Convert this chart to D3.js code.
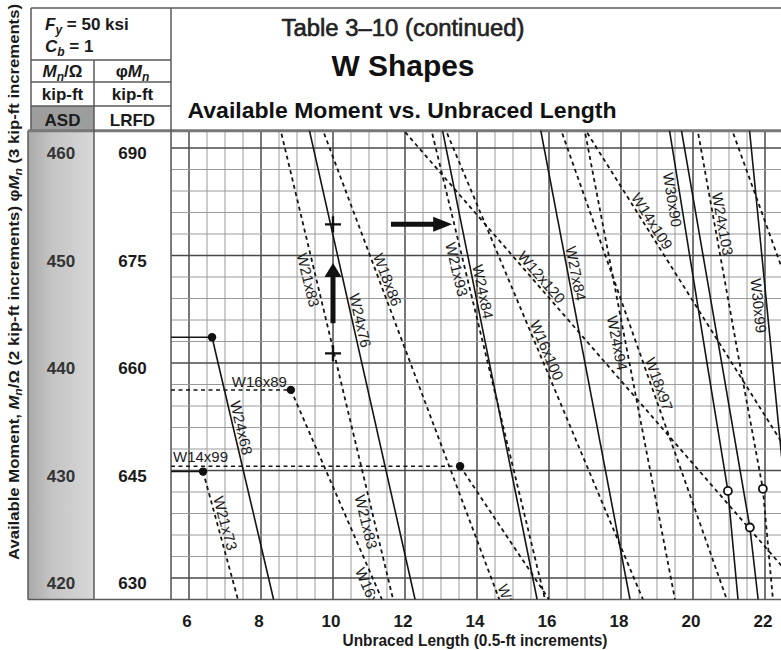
<!DOCTYPE html>
<html>
<head>
<meta charset="utf-8">
<script src="https://cdn.jsdelivr.net/npm/d3@7"></script>
<style>
body{margin:0;background:#fff}
svg{display:block}
text{font-family:"Liberation Sans Narrow","Liberation Sans",Arial,sans-serif}
</style>
</head>
<body>
<div id="chart"></div>
<script>
// ---- data (ASD moment, kip-ft vs unbraced length, ft) ----
const shapes = ["W24x68","W21x73","W16x89","W21x83","W24x76","W18x86","W12x120","W21x93","W24x84",
  "W16x100","W14x99","W27x84","W18x97","W24x94","W14x109","W30x90","unlabeled-solid","W24x103",
  "unlabeled-dashed","W30x99"];
const shapeLb = [
  [6.64, 8.35],[6.39, 7.36],[8.83, 11.36],[8.52, 11.67],[9.32, 12.28],[9.68, 14.62],[11.87, 22.6],
  [12.71, 15.89],[13.02, 15.67],[13.09, 18.61],[13.53, 16.0],[15.75, 18.25],[16.30, 20.94],
  [16.97, 19.5],[16.95, 22.6],[19.33, 20.42, 20.97, 21.25],[19.66, 20.83, 21.58, 21.81],
  [20.11, 21.33, 21.94, 22.22],[21.05, 22.6],[21.56, 22.28, 22.85]
];
const shapeM = [
  [442.4, 418],[429.9, 418],[437.5, 418],[462, 418],[462, 418],[462, 418],[462, 420.6],
  [462, 418],[462, 418],[462, 418],[430.4, 418],[462, 418],[462, 418],
  [462, 418],[462, 431.9],[462, 439.35, 428.1, 418],[462, 439.35, 424.7, 418],
  [462, 439.35, 428.3, 418],[462, 447.6],[462, 437.5, 418]
];
const dashedShapes = ["W21x73","W16x89","W21x83","W18x86","W12x120","W21x93","W16x100","W14x99",
  "W18x97","W24x94","W14x109","W24x103","unlabeled-dashed"];
// shapes whose Lp (filled dot) is inside the window
const lpShapes = ["W24x68","W21x73","W16x89","W14x99"];
// open circles (Lr)
const lrLb = [20.97, 21.58, 21.94];
const lrM = [428.1, 424.7, 428.3];

const xTicks = [6,8,10,12,14,16,18,20,22];
const asdTicks = [460,450,440,430,420];
const lrfdTicks = [690,675,660,645,630];

// worked example marks
const checkLb = [10, 10];
const checkM = [452.9, 440.9];
const upArrowLb = [10, 10];
const upArrowM = [443.7, 449.3];
const rightArrowLb = [11.61, 13.31];
const rightArrowM = [452.9, 452.9];

// where the shape names sit along their lines
const labelPlacement = [
  {shape:"W24x68", m:433.8, side:1},
  {shape:"W21x73", m:424.9, side:1},
  {shape:"W21x83", m:447.9, side:-1},
  {shape:"W21x83", m:425.4, side:-1},
  {shape:"W16x89", m:421.2, side:-1, anchor:"start"},
  {shape:"W24x76", m:443.8, side:1},
  {shape:"W18x86", m:447.5, side:1},
  {shape:"W18x86", m:419.1, side:1, anchor:"start"},
  {shape:"W21x93", m:448.9, side:-1},
  {shape:"W24x84", m:446.5, side:1},
  {shape:"W12x120", m:447.5, side:1},
  {shape:"W16x100", m:440.9, side:1},
  {shape:"W27x84", m:448.2, side:1},
  {shape:"W24x94", m:442.0, side:-1},
  {shape:"W18x97", m:437.8, side:1},
  {shape:"W14x109", m:452.8, side:1},
  {shape:"W30x90", m:455.3, side:-1},
  {shape:"W24x103", m:452.8, side:1},
  {shape:"W30x99", m:445.4, side:-1}
];

// ---- layout ----
const w = 781, h = 650;
const x = d3.scaleLinear().domain([6,22]).range([189,765]);
const y = d3.scaleLinear().domain([420,460]).range([578,148]);
const plotLeft = x(5.5), plotTop = y(461.6), plotBottom = y(418);
const asdL = 28, asdR = 94, hdrL = 31, hdrTop = 8;

const svg = d3.select("#chart").append("svg")
  .attr("width", w).attr("height", h)
  .attr("viewBox", `0 0 ${w} ${h}`);

const defs = svg.append("defs");
const grad = defs.append("linearGradient").attr("id","asdShade");
grad.append("stop").attr("offset","0%").attr("stop-color","#a9a9a9");
grad.append("stop").attr("offset","35%").attr("stop-color","#c4c4c4");
grad.append("stop").attr("offset","100%").attr("stop-color","#d8d8d8");
defs.append("clipPath").attr("id","plotClip")
  .append("rect").attr("x",plotLeft).attr("y",plotTop).attr("width",w-plotLeft).attr("height",plotBottom-plotTop);

// ASD column shading
svg.append("rect").attr("x",asdL).attr("y",plotTop).attr("width",asdR-asdL).attr("height",plotBottom-plotTop)
  .attr("fill","url(#asdShade)");
svg.append("rect").attr("x",hdrL).attr("y",106).attr("width",asdR-hdrL).attr("height",plotTop-106)
  .attr("fill","#9d9d9d");

// grid
const grid = svg.append("g").attr("clip-path","url(#plotClip)");
grid.selectAll("line.v").data(d3.range(5.5, 22.51, 0.5)).enter().append("line")
  .attr("x1", d=>x(d)).attr("x2", d=>x(d)).attr("y1", plotTop).attr("y2", plotBottom)
  .attr("stroke", d=> d%2===0 ? "#4a4a4a" : "#9a9a9a")
  .attr("stroke-width", d=> d%2===0 ? 1.5 : 1);
grid.selectAll("line.h").data(d3.range(418, 461, 2)).enter().append("line")
  .attr("x1", plotLeft).attr("x2", w).attr("y1", d=>y(d)).attr("y2", d=>y(d))
  .attr("stroke", d=> d%10===0 ? "#4a4a4a" : "#9a9a9a")
  .attr("stroke-width", d=> d%10===0 ? 1.5 : 1);

// frame / table lines
const frame = svg.append("g").attr("stroke","#5a5a5a").attr("stroke-width",1.5).attr("fill","none");
frame.append("line").attr("x1",hdrL).attr("x2",w).attr("y1",hdrTop).attr("y2",hdrTop);
frame.append("line").attr("x1",hdrL).attr("x2",hdrL).attr("y1",hdrTop).attr("y2",plotTop);
frame.append("line").attr("x1",asdL).attr("x2",asdL).attr("y1",plotTop).attr("y2",plotBottom);
frame.append("line").attr("x1",asdL).attr("x2",w).attr("y1",plotTop).attr("y2",plotTop).attr("stroke","#777").attr("stroke-width",3);
frame.append("line").attr("x1",asdL).attr("x2",w).attr("y1",plotBottom).attr("y2",plotBottom);
frame.append("line").attr("x1",plotLeft).attr("x2",plotLeft).attr("y1",hdrTop).attr("y2",plotBottom);
frame.append("line").attr("x1",asdR).attr("x2",asdR).attr("y1",60).attr("y2",plotBottom);
[60,82,106].forEach(r=>frame.append("line").attr("x1",hdrL).attr("x2",plotLeft).attr("y1",r).attr("y2",r));

// shape curves
const plot = svg.append("g").attr("clip-path","url(#plotClip)");
const pts = shapes.map((s,i)=> shapeLb[i].map((lb,j)=>[x(lb), y(shapeM[i][j])]));
const line = d3.line();
plot.selectAll("path.curve").data(shapes).enter().append("path")
  .attr("d",(s,i)=>line(pts[i]))
  .attr("fill","none").attr("stroke","#151515")
  .attr("stroke-width", s=> dashedShapes.includes(s) ? 1.8 : 1.6)
  .attr("stroke-dasharray", s=> dashedShapes.includes(s) ? "4,3.5" : null);

// Lp plateaus and dots
lpShapes.forEach(s=>{
  const i = shapes.indexOf(s);
  plot.append("line").attr("x1",plotLeft).attr("x2",x(shapeLb[i][0]))
    .attr("y1",y(shapeM[i][0])).attr("y2",y(shapeM[i][0]))
    .attr("stroke","#151515").attr("stroke-width",1.5)
    .attr("stroke-dasharray", dashedShapes.includes(s) && s!=="W21x73" ? "4,3.5" : null);
  plot.append("circle").attr("cx",x(shapeLb[i][0])).attr("cy",y(shapeM[i][0])).attr("r",4.2)
    .attr("fill","#111");
});
plot.selectAll("circle.lr").data(lrLb).enter().append("circle")
  .attr("cx",(d)=>x(d)).attr("cy",(d,i)=>y(lrM[i])).attr("r",4)
  .attr("fill","#fff").attr("stroke","#111").attr("stroke-width",1.8);

// worked example: plus marks and arrows
checkLb.forEach((lb,i)=>{
  const cx = x(lb), cy = y(checkM[i]);
  plot.append("path").attr("d",`M${cx-8},${cy}H${cx+8}M${cx},${cy-8}V${cy+8}`)
    .attr("stroke","#111").attr("stroke-width",2.4);
});
{
  const ax = x(upArrowLb[0]), y0 = y(upArrowM[0]), y1 = y(upArrowM[1]);
  plot.append("line").attr("x1",ax).attr("x2",ax).attr("y1",y0).attr("y2",y1+12)
    .attr("stroke","#111").attr("stroke-width",5);
  plot.append("path").attr("d",`M${ax},${y1}L${ax-8.5},${y1+14}L${ax+8.5},${y1+14}Z`).attr("fill","#111");
  const ry = y(rightArrowM[0]), x0 = x(rightArrowLb[0]), x1 = x(rightArrowLb[1]);
  plot.append("line").attr("x1",x0).attr("x2",x1-17).attr("y1",ry).attr("y2",ry)
    .attr("stroke","#111").attr("stroke-width",5);
  plot.append("path").attr("d",`M${x1},${ry}L${x1-19},${ry-7.5}L${x1-19},${ry+7.5}Z`).attr("fill","#111");
}

// labels along lines
const labels = svg.append("g").attr("clip-path","url(#plotClip)");
labelPlacement.forEach(p=>{
  const i = shapes.indexOf(p.shape);
  const P = pts[i], py = y(p.m);
  for(let j=0;j<P.length-1;j++){
    const [x0,y0] = P[j], [x1,y1] = P[j+1];
    if(py < Math.min(y0,y1) || py > Math.max(y0,y1)) continue;
    const t = (py-y0)/(y1-y0), px = x0 + t*(x1-x0);
    const ang = Math.atan2(y1-y0, x1-x0), deg = ang*180/Math.PI;
    const ux = Math.sin(ang), uy = -Math.cos(ang);
    const cx = px + p.side*8*ux, cy = py + p.side*8*uy;
    labels.append("text")
      .attr("transform",`translate(${cx},${cy}) rotate(${deg})`)
      .attr("text-anchor", p.anchor || "middle")
      .attr("dominant-baseline","central")
      .style("font-family","'Liberation Sans',Arial,sans-serif")
      .style("font-size","15px").attr("fill","#1c1c1c")
      .text(p.shape);
    break;
  }
});
// horizontal plateau labels
{
  const i89 = shapes.indexOf("W16x89"), i99 = shapes.indexOf("W14x99");
  labels.append("text").attr("x", x(shapeLb[i89][0]) - 4).attr("y", y(shapeM[i89][0]) - 3)
    .attr("text-anchor","end").style("font-family","'Liberation Sans',Arial,sans-serif")
    .style("font-size","15px").attr("fill","#1c1c1c").text("W16x89");
  labels.append("text").attr("x", plotLeft + 2).attr("y", y(shapeM[i99][0]) - 4)
    .style("font-family","'Liberation Sans',Arial,sans-serif")
    .style("font-size","15px").attr("fill","#1c1c1c").text("W14x99");
}

// left tick columns
svg.selectAll("text.asd").data(asdTicks).enter().append("text")
  .attr("x",(asdL+asdR)/2).attr("y",d=>y(d)+11).attr("text-anchor","middle")
  .style("font-size","17px").style("font-weight","bold").attr("fill","#333").text(d=>d);
svg.selectAll("text.lrfd").data(lrfdTicks).enter().append("text")
  .attr("x",(asdR+plotLeft)/2).attr("y",(d,i)=>y(asdTicks[i])+11).attr("text-anchor","middle")
  .style("font-size","17px").style("font-weight","bold").attr("fill","#1a1a1a").text(d=>d);

// x ticks
svg.selectAll("text.xt").data(xTicks).enter().append("text")
  .attr("x",d=>x(d)-2).attr("y",627).attr("text-anchor","middle")
  .style("font-size","17px").style("font-weight","bold").attr("fill","#1a1a1a").text(d=>d);
svg.append("text").attr("x",475).attr("y",646).attr("text-anchor","middle")
  .attr("textLength",265).attr("lengthAdjust","spacingAndGlyphs")
  .style("font-size","16px").style("font-weight","bold").attr("fill","#1a1a1a")
  .text("Unbraced Length (0.5-ft increments)");

// y axis title
const yt = svg.append("text").attr("transform","translate(19,560) rotate(-90)")
  .attr("textLength",556).attr("lengthAdjust","spacingAndGlyphs")
  .style("font-size","15px").style("font-weight","bold").attr("fill","#1a1a1a");
yt.append("tspan").text("Available Moment, ");
yt.append("tspan").style("font-style","italic").text("M");
yt.append("tspan").attr("baseline-shift","-3").style("font-size","11px").style("font-style","italic").text("n");
yt.append("tspan").text("/Ω (2 kip-ft increments) φ");
yt.append("tspan").style("font-style","italic").text("M");
yt.append("tspan").attr("baseline-shift","-3").style("font-size","11px").style("font-style","italic").text("n");
yt.append("tspan").text(" (3 kip-ft increments)");

// header cells
const hdr = svg.append("g").style("font-weight","bold").attr("fill","#1a1a1a").style("font-size","17px");
const fy = hdr.append("text").attr("x",45).attr("y",30);
fy.append("tspan").style("font-style","italic").text("F");
fy.append("tspan").attr("baseline-shift","-4").style("font-size","12px").style("font-style","italic").text("y");
fy.append("tspan").text(" = 50 ksi");
const cb = hdr.append("text").attr("x",45).attr("y",52);
cb.append("tspan").style("font-style","italic").text("C");
cb.append("tspan").attr("baseline-shift","-4").style("font-size","12px").style("font-style","italic").text("b");
cb.append("tspan").text(" = 1");
const mo = hdr.append("text").attr("x",(hdrL+asdR)/2).attr("y",77).attr("text-anchor","middle");
mo.append("tspan").style("font-style","italic").text("M");
mo.append("tspan").attr("baseline-shift","-4").style("font-size","12px").style("font-style","italic").text("n");
mo.append("tspan").text("/Ω");
const pm = hdr.append("text").attr("x",(asdR+plotLeft)/2).attr("y",77).attr("text-anchor","middle");
pm.append("tspan").text("φ");
pm.append("tspan").style("font-style","italic").text("M");
pm.append("tspan").attr("baseline-shift","-4").style("font-size","12px").style("font-style","italic").text("n");
hdr.append("text").attr("x",(hdrL+asdR)/2).attr("y",100).attr("text-anchor","middle").text("kip-ft");
hdr.append("text").attr("x",(asdR+plotLeft)/2).attr("y",100).attr("text-anchor","middle").text("kip-ft");
hdr.append("text").attr("x",(hdrL+asdR)/2).attr("y",126).attr("text-anchor","middle").text("ASD");
hdr.append("text").attr("x",(asdR+plotLeft)/2).attr("y",126).attr("text-anchor","middle").text("LRFD");

// titles
const tf = "'Liberation Sans',Arial,sans-serif";
svg.append("text").attr("x",403).attr("y",36).attr("text-anchor","middle")
  .attr("textLength",243).attr("lengthAdjust","spacingAndGlyphs")
  .style("font-family",tf).style("font-size","23px").attr("fill","#222")
  .attr("stroke","#222").attr("stroke-width",0.6).text("Table 3–10 (continued)");
svg.append("text").attr("x",403).attr("y",76).attr("text-anchor","middle")
  .attr("textLength",143).attr("lengthAdjust","spacingAndGlyphs")
  .style("font-family",tf).style("font-size","30px").style("font-weight","bold").attr("fill","#111").text("W Shapes");
svg.append("text").attr("x",402).attr("y",118).attr("text-anchor","middle")
  .attr("textLength",429).attr("lengthAdjust","spacingAndGlyphs")
  .style("font-family",tf).style("font-size","22px").style("font-weight","bold").attr("fill","#111")
  .text("Available Moment vs. Unbraced Length");
</script>
</body>
</html>
